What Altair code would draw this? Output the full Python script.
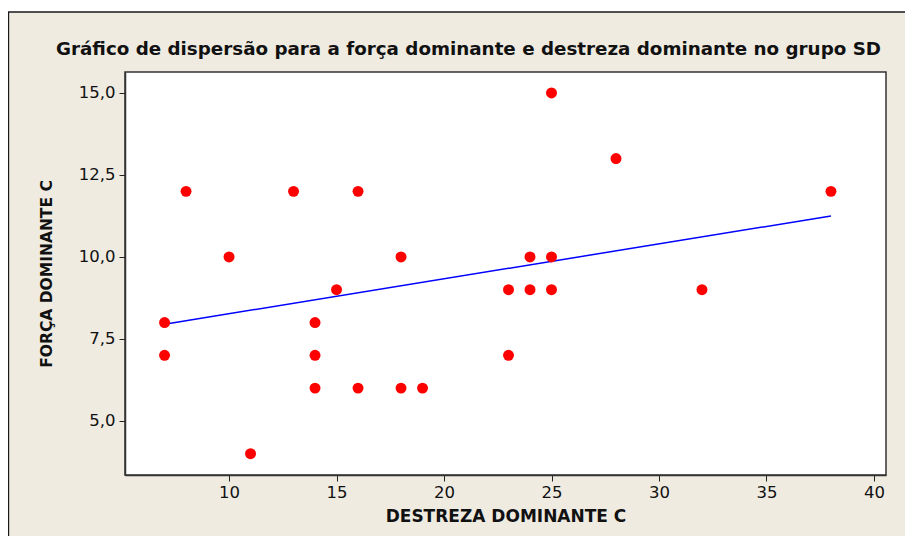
import altair as alt
import pandas as pd

# Data
destreza = [7, 7, 8, 10, 11, 13, 14, 14, 14, 15, 16, 16, 18, 18, 19,
            23, 23, 24, 24, 25, 25, 25, 28, 32, 38]
forca = [8, 7, 12, 10, 4, 12, 8, 7, 6, 9, 12, 6, 10, 6, 6,
         9, 7, 10, 9, 15, 10, 9, 13, 9, 12]
# fitted line end points as drawn in the reference
fit_x = [7, 38]
fit_y = [7.95, 11.25]
x_ticks = [10, 15, 20, 25, 30, 35, 40]
y_ticks = [5.0, 7.5, 10.0, 12.5, 15.0]
title_text = "Gráfico de dispersão para a força dominante e destreza dominante no grupo SD"

df = pd.DataFrame({"destreza": destreza, "forca": forca})
fit = pd.DataFrame({"destreza": fit_x, "forca": fit_y})

W, H = 761, 403
FONT = "DejaVu Sans"
BEIGE = "#EFEBE1"

xscale = alt.Scale(domain=[5.16, 40.56], nice=False, zero=False)
yscale = alt.Scale(domain=[3.35, 15.64], nice=False, zero=False)

one = pd.DataFrame({"k": [0]})

frame = alt.Chart(one).mark_rect(fill=BEIGE, strokeWidth=0).encode(
    x=alt.value(-117), x2=alt.value(W + 60),
    y=alt.value(-60), y2=alt.value(H + 100),
)
top_line = alt.Chart(one).mark_rule(color="#1a1a1a", strokeWidth=1.6).encode(
    x=alt.value(-117), x2=alt.value(W + 60), y=alt.value(-60),
)
left_line = alt.Chart(one).mark_rule(color="#1a1a1a", strokeWidth=2.4).encode(
    x=alt.value(-117), y=alt.value(-60), y2=alt.value(H + 100),
)

plotbg = alt.Chart(one).mark_rect(fill="white", stroke="#333333", strokeWidth=1.5).encode(
    x=alt.value(0), x2=alt.value(W), y=alt.value(0), y2=alt.value(H),
)

title = alt.Chart(pd.DataFrame({"t": [title_text]})).mark_text(
    font=FONT, fontSize=18.3, fontWeight="bold", color="#111",
    align="center", baseline="alphabetic",
).encode(text="t:N", x=alt.value(W / 2 - 37), y=alt.value(-17))

xaxis = alt.Axis(values=x_ticks, title="DESTREZA DOMINANTE C", grid=False,
                 tickSize=6, tickColor="#222", domainColor="#333", domainWidth=1.5,
                 labelFontSize=16.5, labelFont=FONT, labelColor="#111", labelPadding=3,
                 titleFont=FONT, titleFontSize=17, titleFontWeight="bold",
                 titleColor="#111", titlePadding=8, zindex=1)
yaxis = alt.Axis(values=y_ticks, title="FORÇA DOMINANTE C", grid=False,
                 labelExpr="replace(format(datum.value, '.1f'), '.', ',')",
                 tickSize=6, tickColor="#222", domainColor="#333", domainWidth=1.5,
                 labelFontSize=16.5, labelFont=FONT, labelColor="#111", labelPadding=4,
                 titleFont=FONT, titleFontSize=15.5, titleFontWeight="bold",
                 titleColor="#111", titlePadding=24, zindex=1)

points = alt.Chart(df).mark_point(filled=True, color="#FF0000", size=120, opacity=1,
                                  shape="circle").encode(
    x=alt.X("destreza:Q", scale=xscale, axis=xaxis),
    y=alt.Y("forca:Q", scale=yscale, axis=yaxis),
)

line = alt.Chart(fit).mark_line(color="#0000FF", strokeWidth=1.5).encode(
    x=alt.X("destreza:Q", scale=xscale),
    y=alt.Y("forca:Q", scale=yscale),
)

chart = alt.layer(frame, top_line, left_line, plotbg, title, line, points).properties(
    width=W, height=H,
    padding={"left": 117, "top": 64, "right": 19, "bottom": 61},
    autosize=alt.AutoSizeParams(type="none"),
).configure(background="white").configure_view(stroke=None)

chart.save("out.html", embed_options={"renderer": "svg", "actions": False})
